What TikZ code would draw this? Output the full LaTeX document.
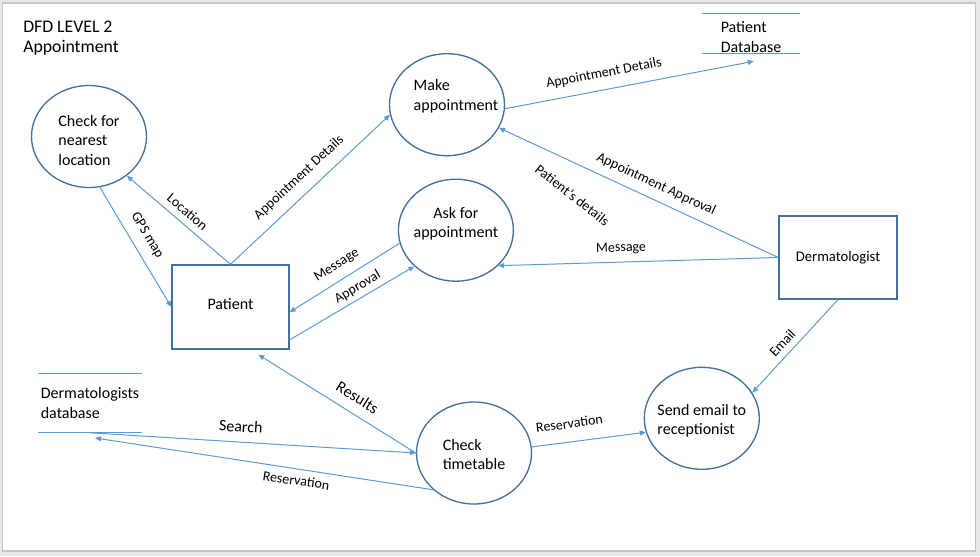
\documentclass[tikz,border=0pt]{standalone}
\usepackage{fontspec}
\setmainfont{Carlito}
\usetikzlibrary{shapes.geometric,arrows.meta}
\definecolor{shapeblue}{HTML}{41719C}
\definecolor{flowblue}{HTML}{5B9BD5}
\definecolor{pagegray}{HTML}{E8E8E8}
\definecolor{edgegray}{HTML}{C6C6C6}
% text block, lifted by #2 inside its shape
\newcommand{\blocktext}[3][l]{\raisebox{#2}[\height][\depth]{\begin{tabular}{@{}#1@{}}#3\end{tabular}}}
\tikzset{
  proc/.style={ellipse, draw=shapeblue, line width=1pt, minimum width=86.25pt, minimum height=76.5pt,
    inner xsep=-10pt, inner ysep=0pt, font=\fontsize{12}{14.6}\selectfont},
  ent/.style={rectangle, draw=shapeblue, line width=1pt, minimum width=87.75pt, minimum height=63pt,
    font=\fontsize{12}{14.6}\selectfont},
  store/.style={inner sep=0pt, font=\fontsize{12}{14.8}\selectfont},
  flow/.style={draw=flowblue, line width=0.75pt, -{Triangle[length=4.5pt,width=3.75pt]}},
  lbl/.style={sloped, font=\fontsize{10.5}{12}\selectfont},
  biglbl/.style={sloped, font=\fontsize{12}{14}\selectfont}
}
\begin{document}
\begin{tikzpicture}[x=0.75pt,y=-0.75pt]
\useasboundingbox (0,0) rectangle (980,556);
\fill[pagegray] (0,0) rectangle (980,556);
\filldraw[fill=white, draw=edgegray, line width=1pt] (2.5,3) rectangle (975.5,551);

\node[anchor=north west, inner sep=0pt, align=left, font=\fontsize{13.3}{15}\selectfont] (title) at (23,20.7) {DFD LEVEL 2\\Appointment};

% processes
\node[proc] (near) at (89,136.5) {\blocktext{-4pt}{Check for\\nearest\\location}};
\node[proc] (make) at (447,104.7) {\blocktext{6pt}{\hspace*{13.5pt}Make\\\hspace*{13.5pt}appointment}};
\node[proc] (ask) at (455.9,230.2) {\blocktext[c]{4.4pt}{Ask for\\appointment}};
\node[proc] (tt) at (474,453) {\blocktext{-2.5pt}{Check\\timetable}};
\node[proc] (email) at (701.8,418.3) {\blocktext{-2.25pt}{Send email to\\receptionist}};

% entities
\node[ent, text depth=4pt] (patient) at (230.5,307) {Patient};
\node[ent, minimum width=88.5pt, minimum height=62.25pt, font=\fontsize{11}{13}\selectfont] (derm) at (838,257.5) {Dermatologist};

% data stores
\node[store, minimum width=73.5pt, minimum height=30pt] (pdb) at (751,33.3) {\blocktext{-3.8pt}{Patient\\Database}};
\node[store, minimum width=77.25pt, minimum height=44.25pt] (ddb) at (90,403) {\blocktext{-1.3pt}{Dermatologists\\database}};
\draw[flowblue, line width=0.75pt] (pdb.north west) -- (pdb.north east) (pdb.south west) -- (pdb.south east);
\draw[flowblue, line width=0.75pt] (ddb.north west) -- (ddb.north east) (ddb.south west) -- (ddb.south east);

% flows
\draw[flow] (patient.north) -- node[lbl, above=1.6pt, pos=0.49] {Location} (near.-46);
\draw[flow] (patient.north) -- node[lbl, above=4pt, pos=0.5] {Appointment Details} (make.190);
\draw[flow] (near.-78) -- node[lbl, above=4pt, pos=0.47] {GPS map} (patient.west);
\draw[flow] (ask.193) -- node[lbl, above=3pt, pos=0.5] {Message} (patient.-5);
\draw[flow] (patient.-29) -- node[lbl, above=0pt, pos=0.59] {Approval} (ask.221);
\draw[flow] (derm.west) -- node[lbl, above=3pt, pos=0.46] {Appointment Approval}
  node[pos=0.748, xshift=2.25pt, yshift=-25.9pt, rotate=-38, font=\fontsize{10.5}{12}\selectfont] {Patient's details} (make.-24);
\draw[flow] (derm.west) -- node[lbl, above=2.2pt, pos=0.56] {Message} (ask.-40);
\draw[flow] (make.-4) -- node[lbl, above=4pt, pos=0.41] {Appointment Details} ([xshift=2pt,yshift=-5.8pt]pdb.south);
\draw[flow] (derm.south) -- node[lbl, above=1.3pt, pos=0.55] {Email} (email.27);
\draw[flow] (tt.6) -- node[lbl, above=6.4pt, pos=0.35] {Reservation} (email.194);
\draw[flow] (tt.180) -- node[biglbl, above=4.3pt, pos=0.425] {Results} ([xshift=20.9pt,yshift=-3.75pt]patient.south);
\draw[flow] (ddb.south) -- node[biglbl, above=3.8pt, pos=0.46] {Search} (tt.180);
\draw[flow] (tt.222) -- node[lbl, below=1.2pt, pos=0.4] {Reservation} ([xshift=3.75pt,yshift=-3.9pt]ddb.south);
\end{tikzpicture}
\end{document}
